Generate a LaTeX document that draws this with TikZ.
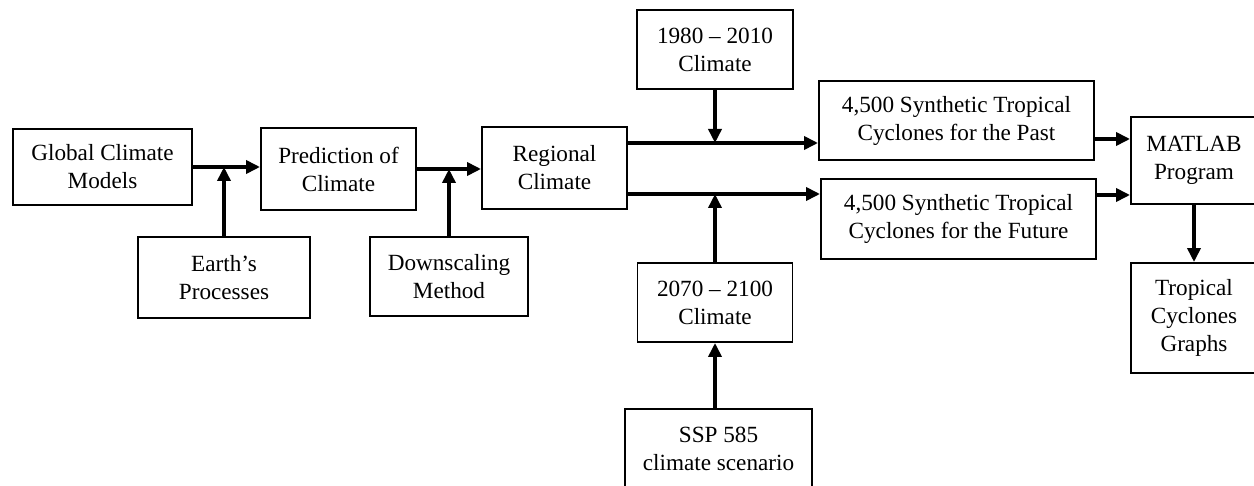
\documentclass[tikz,border=0pt]{standalone}
\usepackage{fontspec}
\setmainfont{Liberation Serif}
\usetikzlibrary{arrows.meta,positioning,calc}

\begin{document}
\begin{tikzpicture}[x=0.2mm,y=-0.2mm,>={Triangle[length=2.8mm,width=2.6mm]},
box/.style={draw,line width=1.1pt,align=center,inner sep=1pt,
  font=\fontsize{13.2}{15.9}\selectfont},
flow/.style={->,line width=2.2pt}]
\clip (0,0) rectangle (1254,486);
% chain of climate models
\node[box,minimum width=35.8mm,minimum height=15.2mm] (gcm) at (102.5,167) {Global Climate\\Models};
\node[box,minimum width=31mm,minimum height=16.4mm] (pred) at (338.5,169) {Prediction of\\Climate};
\node[box,minimum width=34.4mm,minimum height=16.2mm] (earth) at (224,277.5) {Earth’s\\Processes};
\node[box,minimum width=31.6mm,minimum height=15.8mm] (down) at (449,276.5) {Downscaling\\Method};
\node[box,minimum width=29mm,minimum height=16.4mm] (regional) at (554.5,168) {Regional\\Climate};
% periods
\node[box,minimum width=31.2mm,minimum height=15.8mm] (y1980) at (715,49.5) {1980 -- 2010\\Climate};
\node[box,minimum width=31mm,minimum height=15.8mm] (y2070) at (715,302.5) {2070 -- 2100\\Climate};
\node[box,minimum width=37.4mm,minimum height=15.8mm] (ssp) at (718.5,448.5) {SSP 585\\climate scenario};
% synthetic cyclones
\node[box,minimum width=55mm,minimum height=15.8mm] (past) at (956.5,120.5) {4,500 Synthetic Tropical\\Cyclones for the Past};
\node[box,minimum width=55mm,minimum height=16mm] (future) at (958.5,219) {4,500 Synthetic Tropical\\Cyclones for the Future};
\node[box,minimum width=25.2mm,minimum height=17.4mm] (matlab) at (1194,160.5) {MATLAB\\Program};
\node[box,minimum width=25.2mm,minimum height=22mm] (graphs) at (1194,318) {Tropical\\Cyclones\\Graphs};
\coordinate (upper) at (0,143);
\coordinate (lower) at (0,194);
\coordinate (inA) at (0,139);
\coordinate (inB) at (0,195);
\draw[flow] (gcm.east) -- (gcm.east -| pred.west);
\draw[flow] (earth) -- (earth |- gcm.east);
\draw[flow] (pred.east) -- (pred.east -| regional.west);
\draw[flow] (down) -- (down |- pred.east);
\draw[flow] (regional.east |- upper) -- (past.west |- upper);
\draw[flow] (y1980) -- (y1980 |- upper);
\draw[flow] (regional.east |- lower) -- (future.west |- lower);
\draw[flow] (y2070) -- (y2070 |- lower);
\draw[flow] (y2070 |- ssp.north) -- (y2070.south);
\draw[flow] (past.east |- inA) -- (matlab.west |- inA);
\draw[flow] (future.east |- inB) -- (matlab.west |- inB);
\draw[flow] (matlab) -- (graphs);
\end{tikzpicture}
\end{document}
